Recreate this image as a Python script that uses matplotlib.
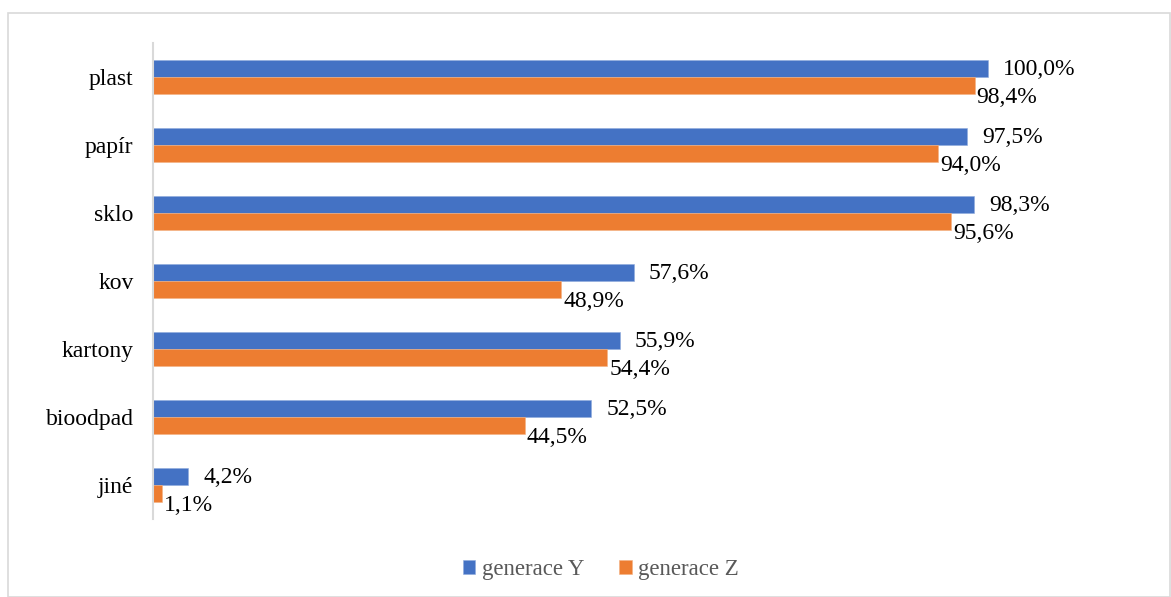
import matplotlib.pyplot as plt
import numpy as np
from matplotlib.patches import Rectangle

categories = ['plast', 'papír', 'sklo', 'kov', 'kartony', 'bioodpad', 'jiné']
gen_y = [100.0, 97.5, 98.3, 57.6, 55.9, 52.5, 4.2]
gen_z = [98.4, 94.0, 95.6, 48.9, 54.4, 44.5, 1.1]
series_names = ['generace Y', 'generace Z']

blue = '#4472C4'
orange = '#ED7D31'

plt.rcParams['font.family'] = ['Liberation Serif', 'DejaVu Serif']

fig = plt.figure(figsize=(11.71, 5.97), dpi=100)
W, H = 1171, 597
# outer chart border
fig.patches.append(Rectangle((8 / W, 0), (W - 9) / W, 1 - 13 / H, transform=fig.transFigure,
                             fill=False, edgecolor='#D9D9D9', linewidth=1.2))

ax = fig.add_axes([153 / W, 1 - 519 / H, 1002 / W, 476 / H])

y = np.arange(len(categories))
h = 0.25
bars_y = ax.barh(y - h / 2, gen_y, height=h, color=blue, edgecolor='#8FAADC', linewidth=0.4, label=series_names[0])
bars_z = ax.barh(y + h / 2, gen_z, height=h, color=orange, edgecolor='#F4B183', linewidth=0.4, label=series_names[1])

fs = 17
for b, v in zip(bars_y, gen_y):
    ax.annotate(f'{v:.1f}%'.replace('.', ','), (b.get_width(), b.get_y() + b.get_height() / 2),
                xytext=(15, -1), textcoords='offset pixels', ha='left', va='center', fontsize=fs)
for b, v in zip(bars_z, gen_z):
    ax.annotate(f'{v:.1f}%'.replace('.', ','), (b.get_width(), b.get_y() + b.get_height() / 2),
                xytext=(2, -12), textcoords='offset pixels', ha='left', va='center', fontsize=fs)

ax.set_xlim(0, 120)
ax.set_ylim(len(categories) - 0.5, -0.5)
ax.set_yticks(y)
ax.set_yticklabels(categories, fontsize=fs)
ax.tick_params(axis='y', length=0, pad=14)
ax.set_xticks([])
for s in ['top', 'right', 'bottom']:
    ax.spines[s].set_visible(False)
ax.spines['left'].set_color('#D9D9D9')
ax.spines['left'].set_linewidth(1.5)

leg = fig.legend(loc='center', bbox_to_anchor=(601 / W, 1 - 570 / H), ncol=2, frameon=False,
                 fontsize=16.5, handlelength=0.55, handleheight=0.55, handletextpad=0.3, columnspacing=1.5)
for t in leg.get_texts():
    t.set_color('#595959')

fig.savefig('out.png', dpi=100)
